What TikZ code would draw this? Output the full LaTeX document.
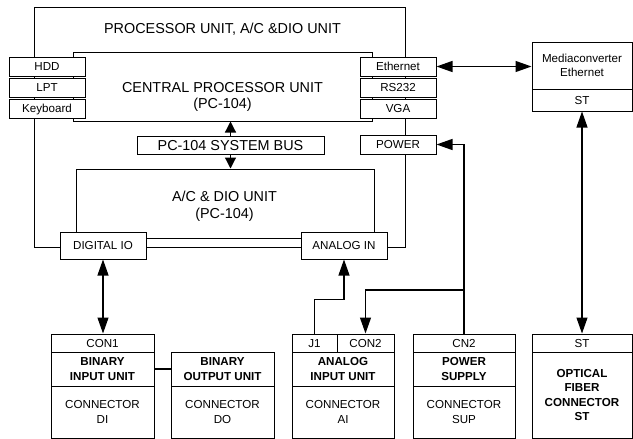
\documentclass[tikz,border=0pt]{standalone}
\usepackage{fontspec}
\setmainfont{Liberation Sans}
\usepackage{tikz}
\usetikzlibrary{arrows.meta}

\newcommand{\bigtxt}{\fontsize{14.4}{16.7}\selectfont}
\newcommand{\smalltxt}{\fontsize{11.6}{14.6}\selectfont}

\tikzset{
	unit/.style={draw,line width=1pt,fill=white,inner sep=0pt,align=center,font=\smalltxt},
	cell/.style={unit,minimum height=18pt,text height=8.4pt,text depth=0pt},
	port/.style={unit,minimum width=76pt,minimum height=19pt,text height=8.4pt,text depth=0pt},
	boldunit/.style={unit,minimum height=34pt,font=\smalltxt\bfseries},
	conunit/.style={unit,minimum height=52pt},
	link/.style={line width=1.2pt},
	twoway/.style={link,{Triangle[length=16pt,width=11pt]}-{Triangle[length=16pt,width=11pt]}},
	oneway/.style={link,-{Triangle[length=16pt,width=11pt]}},
	busway/.style={link,-{Triangle[length=11pt,width=11pt]}}
}

\begin{document}
\begin{tikzpicture}[x=1pt,y=-1pt]
			\useasboundingbox (0,0) rectangle (633,439);
			
			\node[unit,minimum width=371pt,minimum height=240pt] (outer) at (219.5,127) {};
			\node[font=\bigtxt] (title) at (222.5,29) {PROCESSOR UNIT, A/C \&DIO UNIT};
			
			\node[unit,minimum width=299pt,minimum height=69pt] (cpu) at (222.5,86.5) {};
			\node[font=\bigtxt,align=center] (cputext) at (222.5,97) {CENTRAL PROCESSOR UNIT\\(PC-104)};
			
			\node[unit,minimum width=298pt,minimum height=69pt] (ac) at (225,203.5) {};
			\node[font=\bigtxt,align=center] (actext) at (224.5,206) {A/C \& DIO UNIT\\(PC-104)};
			
			\foreach \name/\txt/\y in {hdd/HDD/66.5, lpt/LPT/87.5, kbd/Keyboard/108.5}
				\node[port] (\name) at (47,\y) {\txt};
			\foreach \name/\txt/\y in {eth/Ethernet/66.5, rs/RS232/87.5, vga/VGA/108.5, power/POWER/144.5}
				\node[port] (\name) at (398,\y) {\txt};
			
			\node[unit,font=\bigtxt,minimum width=187pt,minimum height=18pt,text height=10.3pt,text depth=0pt] (bus) at (230.5,145) {PC-104 SYSTEM BUS};
			\draw[busway] (bus.north) -- (bus.north |- cpu.south);
			\draw[busway] (bus.south) -- (bus.south |- ac.north);
			
			\node[unit,minimum width=86pt,minimum height=27pt,text height=8.4pt,text depth=0pt] (dio) at (103,245.5) {DIGITAL IO};
			\node[unit,minimum width=86pt,minimum height=27pt,text height=8.4pt,text depth=0pt] (ain) at (344,245.5) {ANALOG IN};
			
			\node[unit,minimum width=100pt,minimum height=47pt] (media) at (582,65.5) {Mediaconverter\\Ethernet};
			\node[cell,minimum width=100pt,minimum height=22pt] (mst) at (582,100) {ST};
			
			\node[cell,minimum width=103pt] (con1) at (102.5,343) {CON1};
			\node[boldunit,minimum width=103pt] (bin) at (102.5,369) {BINARY\\INPUT UNIT};
			\node[conunit,minimum width=103pt] (bindi) at (102.5,412) {CONNECTOR\\DI};
			
			\node[boldunit,minimum width=103pt] (bout) at (222.5,369) {BINARY\\OUTPUT UNIT};
			\node[conunit,minimum width=103pt] (boutdo) at (222.5,412) {CONNECTOR\\DO};
			
			\node[cell,minimum width=45pt] (j1) at (314.5,343) {J1};
			\node[cell,minimum width=57pt] (con2) at (365.5,343) {CON2};
			\node[boldunit,minimum width=102pt] (analog) at (343,369) {ANALOG\\INPUT UNIT};
			\node[conunit,minimum width=102pt] (analogai) at (343,412) {CONNECTOR\\AI};
			
			\node[cell,minimum width=102pt] (cn2) at (464,343) {CN2};
			\node[boldunit,minimum width=102pt] (supply) at (464,369) {POWER\\SUPPLY};
			\node[conunit,minimum width=102pt] (supplysup) at (464,412) {CONNECTOR\\SUP};
			
			\node[cell,minimum width=100pt] (st) at (582,343) {ST};
			\node[unit,minimum width=100pt,minimum height=86pt,font=\smalltxt\bfseries] (fiber) at (582,395) {OPTICAL\\FIBER\\CONNECTOR\\ST};
			
			\draw[twoway] (eth.east) -- (eth.east -| media.west);
			\draw[twoway] (st.north) -- (mst.south);
			\draw[twoway] (dio.south) -- (dio.south |- con1.north);
			\draw[oneway] (j1.north) -- ++(0,-34) -| (ain.south);
			\draw[oneway] (cn2.north) |- (power.east);
			\coordinate (psplit) at (464,290);
			\draw[oneway] (psplit) -| (con2.north);
			\draw[link] (bin.east) -- (bout.west);
			
		\end{tikzpicture}
\end{document}
